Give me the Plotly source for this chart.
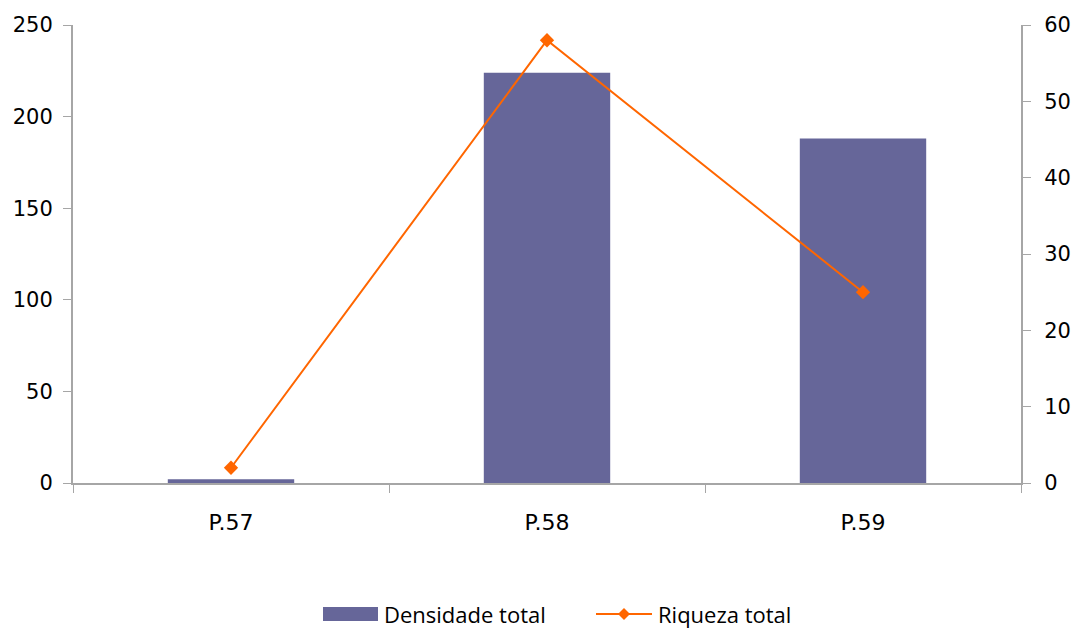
import plotly.graph_objects as go

categories = ["P.57", "P.58", "P.59"]
densidade = [2, 224, 188]
riqueza = [2, 58, 25]
series_names = ["Densidade total", "Riqueza total"]

BAR_COLOR = "#666699"
LINE_COLOR = "#FF6600"
AXIS_COLOR = "#A6A6A6"

fig = go.Figure()
fig.add_trace(go.Bar(x=categories, y=densidade, name=series_names[0],
                     marker=dict(color=BAR_COLOR, line=dict(width=0))))
fig.add_trace(go.Scatter(x=categories, y=riqueza, name=series_names[1], yaxis="y2",
                         mode="lines+markers",
                         line=dict(color=LINE_COLOR, width=2),
                         marker=dict(symbol="diamond", size=11, color=LINE_COLOR)))

axis_font = dict(family="DejaVu Sans", size=22, color="#000000")
legend_font = dict(family="Open Sans", size=22, color="#000000")

W, H = 1072, 628
ml, mr, mt, mb = 73, 51, 25, 145

def px_to_paper_x(px):
    return (px - ml) / (W - ml - mr)

def py_to_paper_y(py):
    return (H - mb - py) / (H - mt - mb)

# custom legend (rectangle swatch + line with diamond), in pixel coords
ly = py_to_paper_y(614)
shapes = [
    dict(type="rect", xref="paper", yref="paper",
         x0=px_to_paper_x(323), x1=px_to_paper_x(378),
         y0=py_to_paper_y(607), y1=py_to_paper_y(621),
         fillcolor=BAR_COLOR, line=dict(width=0)),
    dict(type="line", xref="paper", yref="paper",
         x0=px_to_paper_x(596), x1=px_to_paper_x(652), y0=ly, y1=ly,
         line=dict(color=LINE_COLOR, width=2)),
]
dcx, dcy = 624, 614
d = 6
pts = [(dcx, dcy - d), (dcx + d, dcy), (dcx, dcy + d), (dcx - d, dcy)]
path = "M " + " L ".join(f"{px_to_paper_x(x)},{py_to_paper_y(y)}" for x, y in pts) + " Z"
shapes.append(dict(type="path", xref="paper", yref="paper", path=path,
                   fillcolor=LINE_COLOR, line=dict(width=0)))

annotations = [
    dict(text=series_names[0], xref="paper", yref="paper", x=px_to_paper_x(382), y=ly,
         xanchor="left", yanchor="middle", showarrow=False, font=legend_font),
    dict(text=series_names[1], xref="paper", yref="paper", x=px_to_paper_x(656), y=ly,
         xanchor="left", yanchor="middle", showarrow=False, font=legend_font),
]

fig.update_layout(
    width=W, height=H,
    margin=dict(l=ml, r=mr, t=mt, b=mb, autoexpand=False),
    paper_bgcolor="white", plot_bgcolor="white",
    bargap=0.6,
    showlegend=False,
    shapes=shapes,
    annotations=annotations,
    xaxis=dict(type="category", showline=True, linecolor=AXIS_COLOR, linewidth=2,
               ticks="outside", tickson="boundaries", ticklen=8, tickcolor=AXIS_COLOR,
               showgrid=False, tickfont=axis_font, ticklabelstandoff=19, automargin=False),
    yaxis=dict(range=[0, 250], tickvals=[0, 50, 100, 150, 200, 250], showline=True,
               linecolor=AXIS_COLOR, linewidth=2, ticks="outside", ticklen=8,
               tickcolor=AXIS_COLOR, showgrid=False, zeroline=False,
               tickfont=dict(axis_font, size=21), ticklabelstandoff=6, automargin=False),
    yaxis2=dict(range=[0, 60], tickvals=[0, 10, 20, 30, 40, 50, 60], overlaying="y",
                side="right", showline=True, linecolor=AXIS_COLOR, linewidth=2,
                ticks="outside", ticklen=8, tickcolor=AXIS_COLOR, showgrid=False,
                zeroline=False, tickfont=dict(axis_font, size=21), ticklabelstandoff=9,
                automargin=False),
)

fig.write_html("out.html",
               config={"displayModeBar": False},
               post_script="document.body.style.margin='0px';document.body.style.overflow='hidden';")
